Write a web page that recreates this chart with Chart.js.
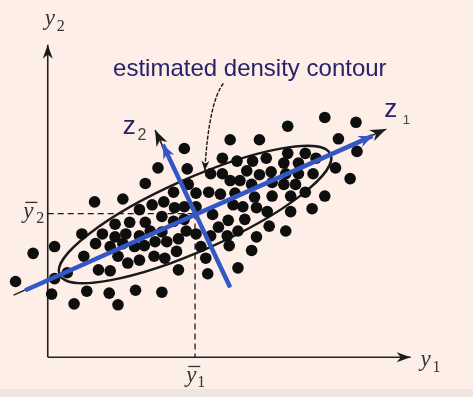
<!DOCTYPE html>
<html lang="en">
<head>
<meta charset="UTF-8" />
<title>Estimated density contour</title>
<script src="https://cdn.jsdelivr.net/npm/chart.js"></script>
<style>
  html, body { margin: 0; padding: 0; background: #fdeee8; }
  #wrap { width: 473px; height: 397px; position: relative; }
</style>
</head>
<body>
<div id="wrap"><canvas id="chart"></canvas></div>
<script>
// observations (y1, y2), measured from the corner of the axes
const dotX = [284,316,246,187,217,298,317,310,295,284,271,249,244,214,227,140,113,143,100,77,
  48,35,7,-15,-33,7,4,27,40,63,72,90,117,134,164,195,162,209,157,179,
  194,210,224,246,264,275,242,257,167,179,204,217,229,244,257,272,187,197,209,230,
  242,254,152,165,177,192,230,249,264,129,144,212,190,200,214,225,152,169,185,202,
  175,195,152,167,184,186,94,107,119,130,140,117,129,140,84,69,100,56,69,80,
  94,105,117,142,49,64,77,89,99,110,122,134,37,72,82,94,109,120,132,52,64,20];
const dotY = [247,242,238,224,224,225,212,184,195,166,153,150,130,124,135,215,195,194,179,163,
  160,127,114,107,78,81,65,55,68,66,54,69,67,90,86,92,102,110,114,205,
  202,202,205,210,210,205,200,200,189,189,192,188,191,189,189,189,182,182,178,180,
  178,178,169,170,168,169,166,166,170,170,178,165,157,155,154,150,155,147,141,142,
  134,130,127,125,125,115,152,157,160,154,155,145,140,142,139,137,139,127,124,127,
  125,130,129,130,117,114,117,114,115,119,119,122,104,104,97,100,104,102,109,90,89,87];

// axes, means and principal directions
const axisY1 = [[0, 0], [372, 0]];
const axisY2 = [[0, 0], [0, 322]];
const mean = [151, 148];
const z1Thin = [[-35, 64], [347, 235]];
const z1Blue = [[-23, 69], [333, 228]];
const z2Thin = [[187, 72], [110, 234]];
const z2Blue = [[187, 72], [118, 219]];

// contour: centre, half axes, tilt (deg)
const contour = { cx: 151, cy: 147, a: 152, b: 37, tilt: 24 };

// annotation
const noteText = "estimated density contour";
const notePos = [67, 290];
const noteCurve = [[180, 282], [165, 262], [161, 192]];

const BLUE = "#3557c6";
const NAVY = "#2a2168";
const INK = "#1a1a1a";

const pts = (arr) => arr.map((p) => ({ x: p[0], y: p[1] }));

const dashH = [[0, mean[1]], mean];
const dashV = [mean, [mean[0], 0]];

const extras = {
  id: "extras",
  beforeDraw(chart) {
    const c = chart.ctx;
    c.save();
    c.fillStyle = "#fdeee8";
    c.fillRect(0, 0, chart.width, chart.height);
    c.fillStyle = "#efe5e1";
    c.fillRect(0, 389, chart.width, chart.height - 389);
    c.restore();
  },
  beforeDatasetsDraw(chart) {
    const c = chart.ctx;
    const xs = chart.scales.x, ys = chart.scales.y;
    const px = (v) => xs.getPixelForValue(v), py = (v) => ys.getPixelForValue(v);
    // contour ellipse
    c.save();
    c.strokeStyle = INK;
    c.lineWidth = 2.4;
    c.beginPath();
    c.ellipse(px(contour.cx), py(contour.cy),
      px(contour.cx + contour.a) - px(contour.cx),
      py(contour.cy) - py(contour.cy + contour.b),
      -contour.tilt * Math.PI / 180, 0, Math.PI * 2);
    c.stroke();
    c.restore();
  },
  afterDatasetsDraw(chart) {
    const c = chart.ctx;
    const xs = chart.scales.x, ys = chart.scales.y;
    const px = (v) => xs.getPixelForValue(v), py = (v) => ys.getPixelForValue(v);
    const P = (p) => [px(p[0]), py(p[1])];

    function head(from, to, color, len, wid) {
      const [x0, y0] = P(from), [x1, y1] = P(to);
      const ang = Math.atan2(y1 - y0, x1 - x0);
      c.save();
      c.translate(x1, y1);
      c.rotate(ang);
      c.fillStyle = color;
      c.beginPath();
      c.moveTo(0, 0);
      c.lineTo(-len, -wid);
      c.lineTo(-len * 0.7, 0);
      c.lineTo(-len, wid);
      c.closePath();
      c.fill();
      c.restore();
    }
    head(axisY1[0], axisY1[1], INK, 14, 5);
    head(axisY2[0], axisY2[1], INK, 14, 5);
    head(z1Thin[0], z1Thin[1], INK, 16, 6);
    head(z2Thin[0], z2Thin[1], INK, 16, 6);
    head(z1Blue[0], z1Blue[1], BLUE, 14, 6);
    head(z2Blue[0], z2Blue[1], BLUE, 14, 6);

    // curved pointer to the contour
    const [s, k, e] = noteCurve.map(P);
    c.save();
    c.strokeStyle = INK;
    c.lineWidth = 1.4;
    c.setLineDash([4, 1.5]);
    c.beginPath();
    c.moveTo(s[0], s[1]);
    c.quadraticCurveTo(k[0], k[1], e[0], e[1]);
    c.stroke();
    c.restore();
    head(noteCurve[1], noteCurve[2], INK, 10, 4);

    // texts
    c.save();
    c.textBaseline = "alphabetic";
    c.fillStyle = NAVY;
    c.font = "24px 'Liberation Sans', Arial, sans-serif";
    c.fillText(noteText, px(notePos[0]), py(notePos[1]));

    c.font = "26px 'Liberation Sans', Arial, sans-serif";
    c.fillText("z", px(345), py(247));
    c.fillText("z", px(77), py(230));
    c.font = "13px 'Liberation Sans', Arial, sans-serif";
    c.fillStyle = "#444";
    c.fillText("1", px(364), py(240));
    c.font = "16px 'Liberation Sans', Arial, sans-serif";
    c.fillText("2", px(92), py(224));

    c.fillStyle = "#333";
    c.strokeStyle = "#333";
    c.lineWidth = 1.3;
    const yLab = (x, y, sub, subDx, subDy, bar) => {
      c.font = "italic 23px 'Liberation Serif', 'Times New Roman', serif";
      c.fillText("y", px(x), py(y));
      c.font = "16px 'Liberation Serif', 'Times New Roman', serif";
      c.fillText(sub, px(x) + subDx, py(y) + subDy);
      if (bar) {
        c.beginPath();
        c.moveTo(px(x) + 2, py(y) - 16);
        c.lineTo(px(x) + 14, py(y) - 16);
        c.stroke();
      }
    };
    yLab(-3, 342, "2", 12, 6, false);
    yLab(382, -9, "1", 12, 6, false);
    yLab(142, -26, "1", 11, 5, true);
    yLab(-25, 143, "2", 13, 5, true);
    c.restore();
  }
};

const ctx = document.getElementById("chart").getContext("2d");
new Chart(ctx, {
  type: "scatter",
  data: {
    datasets: [
      {
        label: "z2",
        type: "line",
        data: pts(z2Blue),
        borderColor: BLUE,
        borderWidth: 4.5,
        pointRadius: 0,
        order: 1,
      },
      {
        label: "z1",
        type: "line",
        data: pts(z1Blue),
        borderColor: BLUE,
        borderWidth: 4.5,
        pointRadius: 0,
        order: 1,
      },
      {
        label: "observations",
        data: dotX.map((x, i) => ({ x: x, y: dotY[i] })),
        backgroundColor: "#0e0e0e",
        borderWidth: 0,
        pointRadius: 5.8,
        order: 2,
      },
      {
        label: "z1 axis",
        type: "line",
        data: pts(z1Thin),
        borderColor: INK,
        borderWidth: 1.5,
        pointRadius: 0,
        order: 3,
      },
      {
        label: "z2 axis",
        type: "line",
        data: pts(z2Thin),
        borderColor: INK,
        borderWidth: 1.5,
        pointRadius: 0,
        order: 3,
      },
      {
        label: "mean y2",
        type: "line",
        data: pts(dashH),
        borderColor: INK,
        borderWidth: 1.3,
        borderDash: [6, 4],
        pointRadius: 0,
        order: 4,
      },
      {
        label: "mean y1",
        type: "line",
        data: pts(dashV),
        borderColor: INK,
        borderWidth: 1.3,
        borderDash: [6, 4],
        pointRadius: 0,
        order: 4,
      },
      {
        label: "y1",
        type: "line",
        data: pts(axisY1),
        borderColor: "#222",
        borderWidth: 1.6,
        pointRadius: 0,
        order: 4,
      },
      {
        label: "y2",
        type: "line",
        data: pts(axisY2),
        borderColor: "#222",
        borderWidth: 1.6,
        pointRadius: 0,
        order: 4,
      },
    ],
  },
  options: {
    responsive: true,
    maintainAspectRatio: false,
    animation: false,
    layout: { padding: 0 },
    plugins: {
      legend: { display: false },
      tooltip: { enabled: false },
    },
    scales: {
      x: { type: "linear", min: -43, max: 430, display: false },
      y: { type: "linear", min: -35, max: 362, display: false },
    },
  },
  plugins: [extras],
});
</script>
</body>
</html>
